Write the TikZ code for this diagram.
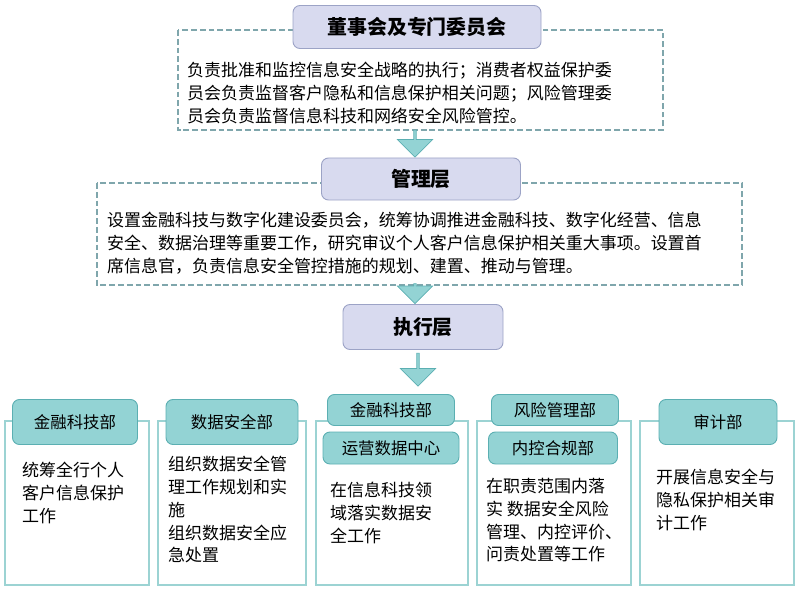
\documentclass[tikz,border=0pt]{standalone}
\usepackage{fontspec}
\setmainfont{Noto Sans CJK SC}
\usetikzlibrary{shapes.arrows}
\definecolor{lav}{HTML}{D8DAEF}
\definecolor{lavline}{HTML}{9CA3C6}
\definecolor{dashline}{HTML}{7FA6AC}
\definecolor{tealfill}{HTML}{93D3D4}
\definecolor{tealline}{HTML}{5BAFB2}
\definecolor{boxline}{HTML}{9CD3D3}
\tikzset{
  lay/.style={rectangle, draw=lavline, fill=lav, rounded corners=6pt, line width=0.8pt,
    font=\fontsize{17}{20}\selectfont\bfseries},
  dbox/.style={draw=dashline, dash pattern=on 5pt off 2.5pt, line width=1.2pt},
  dep/.style={rectangle, draw=tealline, fill=tealfill, rounded corners=6pt, line width=0.8pt,
    font=\fontsize{14}{17}\selectfont},
  obox/.style={draw=boxline, line width=1pt},
  txt/.style={anchor=north west, align=left, font=\fontsize{14.5}{19.5}\selectfont},
  down/.style={single arrow, draw=tealline, fill=tealfill, shape border rotate=270,
    minimum width=30pt, single arrow head extend=4pt, inner sep=0pt, line width=0.6pt}
}
\begin{document}
\begin{tikzpicture}[x=0.03cm,y=-0.03cm]
  \useasboundingbox (0,0) rectangle (800,591);

  % board
  \draw[dbox] (178,30) rectangle (663,130);
  \node[lay, minimum width=248*0.03cm, minimum height=43*0.03cm] (board) at (417,27) {董事会及专门委员会};
  \node[txt] (boardtxt) at (183,58) {负责批准和监控信息安全战略的执行；消费者权益保护委\\员会负责监督客户隐私和信息保护相关问题；风险管理委\\员会负责监督信息科技和网络安全风险管控。};

  % management
  \node[down, minimum height=27*0.03cm] (a1) at (415,143) {};
  \draw[dbox] (97,183) rectangle (742,285);
  \node[lay, minimum width=199*0.03cm, minimum height=42*0.03cm] (mgmt) at (421,179) {管理层};
  \node[txt] (mgmttxt) at (103,208) {设置金融科技与数字化建设委员会，统筹协调推进金融科技、数字化经营、信息\\安全、数据治理等重要工作，研究审议个人客户信息保护相关重大事项。设置首\\席信息官，负责信息安全管控措施的规划、建置、推动与管理。};

  % execution
  \node[down, minimum height=20*0.03cm] (a2) at (415,293) {};
  \node[lay, minimum width=160*0.03cm, minimum height=45*0.03cm] (exec) at (423,327) {执行层};
  \node[down, minimum height=33*0.03cm] (a3) at (418,369) {};

  % departments
  \draw[obox] (5,421) rectangle (149,585);
  \node[dep, minimum width=125*0.03cm, minimum height=45*0.03cm] (fintech) at (75,422) {金融科技部};
  \node[txt] (fintechtxt) at (18,458) {统筹全行个人\\客户信息保护\\工作};

  \draw[obox] (158,421) rectangle (306,585);
  \node[dep, minimum width=132*0.03cm, minimum height=45*0.03cm] (datasec) at (232,422) {数据安全部};
  \node[txt] (datasectxt) at (164,452) {组织数据安全管\\理工作规划和实\\施\\组织数据安全应\\急处置};

  \draw[obox] (316,421) rectangle (468,585);
  \node[dep, minimum width=127*0.03cm, minimum height=31*0.03cm] (fintech2) at (391,410) {金融科技部};
  \node[dep, minimum width=136*0.03cm, minimum height=32*0.03cm] (opsdata) at (391,448) {运营数据中心};
  \node[txt] (opsdatatxt) at (326,478) {在信息科技领\\域落实数据安\\全工作};

  \draw[obox] (477,421) rectangle (631,585);
  \node[dep, minimum width=127*0.03cm, minimum height=31*0.03cm] (risk) at (555,410) {风险管理部};
  \node[dep, minimum width=129*0.03cm, minimum height=32*0.03cm] (compl) at (553,448) {内控合规部};
  \node[txt] (compltxt) at (482,474) {在职责范围内落\\实 数据安全风险\\管理、内控评价、\\问责处置等工作};

  \draw[obox] (640,421) rectangle (794,585);
  \node[dep, minimum width=118*0.03cm, minimum height=45*0.03cm] (audit) at (718,422) {审计部};
  \node[txt] (audittxt) at (652,465) {开展信息安全与\\隐私保护相关审\\计工作};
\end{tikzpicture}
\end{document}
